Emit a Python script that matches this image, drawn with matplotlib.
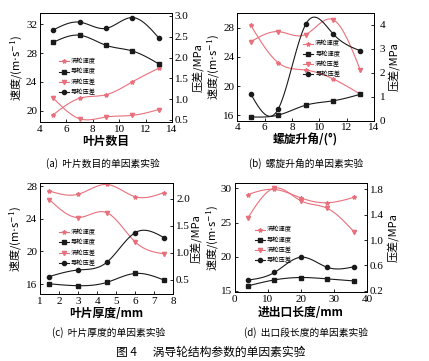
import numpy as np
import matplotlib
matplotlib.use('Agg')
import matplotlib.pyplot as plt

plt.rcParams['font.family'] = ['Noto Sans CJK SC', 'DejaVu Sans']
plt.rcParams['mathtext.fontset'] = 'dejavuserif'

RED = '#e8707c'
BLACK = '#1a1a1a'
names = ['涡轮速度', '导轮速度', '涡轮压差', '导轮压差']

# (a) 叶片数目
xa = [5, 7, 9, 11, 13]
a_tspeed = [19.4, 21.7, 22.2, 24.0, 25.9]
a_gspeed = [29.5, 30.5, 29.1, 28.3, 26.5]
a_tpress = [1.03, 0.53, 0.57, 0.61, 0.75]
a_gpress = [2.66, 2.85, 2.70, 2.96, 2.47]

# (b) 螺旋升角
xb = [5, 7, 9, 11, 13]
b_tspeed = [28.3, 23.2, 22.2, 21.0, 18.9]
b_gspeed = [15.8, 16.05, 17.4, 18.0, 18.9]
b_tpress = [3.30, 3.72, 3.60, 4.22, 2.10]
b_gpress = [1.10, 0.49, 4.02, 3.63, 2.92]

# (c) 叶片厚度
xc = [1.5, 3, 4.5, 6, 7.5]
c_tspeed = [27.4, 27.0, 28.2, 26.7, 27.2]
c_gspeed = [16.03, 15.8, 16.2, 17.3, 16.5]
c_tpress = [1.98, 1.65, 1.74, 1.20, 0.98]
c_gpress = [0.56, 0.68, 0.82, 1.37, 1.28]

# (d) 进出口长度
xd = [4, 12, 20, 28, 36]
d_tspeed = [29.1, 29.85, 28.6, 27.9, 28.7]
d_gspeed = [15.72, 16.6, 16.95, 16.75, 16.45]
d_tpress = [1.35, 1.82, 1.62, 1.50, 1.13]
d_gpress = [0.37, 0.49, 0.73, 0.57, 0.58]


def smooth(x, y, n=120):
    # natural cubic spline through the measured points (line drawing only)
    x = np.asarray(x, float)
    y = np.asarray(y, float)
    k = len(x)
    h = np.diff(x)
    A = np.zeros((k, k))
    r = np.zeros(k)
    A[0, 0] = A[-1, -1] = 1
    for i in range(1, k - 1):
        A[i, i - 1] = h[i - 1]
        A[i, i] = 2 * (h[i - 1] + h[i])
        A[i, i + 1] = h[i]
        r[i] = 6 * ((y[i + 1] - y[i]) / h[i] - (y[i] - y[i - 1]) / h[i - 1])
    M = np.linalg.solve(A, r)
    xs = np.linspace(x[0], x[-1], n)
    idx = np.clip(np.searchsorted(x, xs) - 1, 0, k - 2)
    x0, x1 = x[idx], x[idx + 1]
    hh = x1 - x0
    t0, t1 = x1 - xs, xs - x0
    ys = (M[idx] * t0 ** 3 + M[idx + 1] * t1 ** 3) / (6 * hh) \
        + (y[idx] / hh - M[idx] * hh / 6) * t0 + (y[idx + 1] / hh - M[idx + 1] * hh / 6) * t1
    return xs, ys


def series(ax, x, y, color, marker, label):
    xs, ys = smooth(x, y)
    ax.plot(xs, ys, color=color, lw=0.8)
    ax.plot(x, y, ls='none', marker=marker, ms=3, color=color)
    return ax.plot([], [], color=color, lw=0.8, marker=marker, ms=3, label=label)[0]


fig = plt.figure(figsize=(4.29, 3.61), dpi=100)

panels = [
    ([0.093, 0.662, 0.308, 0.302], xa, a_tspeed, a_gspeed, a_tpress, a_gpress,
     (4, 14), [4, 6, 8, 10, 12, 14], (18.4, 33.6), [20, 24, 28, 32],
     (0.45, 3.07), [0.5, 1.0, 1.5, 2.0, 2.5, 3.0], '叶片数目', (0.12, 0.62)),
    ([0.553, 0.666, 0.319, 0.298], xb, b_tspeed, b_gspeed, b_tpress, b_gpress,
     (4, 14), [4, 6, 8, 10, 12, 14], (15.3, 30.0), [16, 20, 24, 28],
     (0, 4.5), [0, 1, 2, 3, 4], '螺旋升角/(°)', (0.46, 0.78)),
    ([0.093, 0.186, 0.311, 0.306], xc, c_tspeed, c_gspeed, c_tpress, c_gpress,
     (1, 8), [1, 2, 3, 4, 5, 6, 7, 8], (14.8, 28.33), [16, 20, 24, 28],
     (0.24, 2.28), [0.5, 1.0, 1.5, 2.0], '叶片厚度/mm', (0.12, 0.62)),
    ([0.547, 0.190, 0.309, 0.302], xd, d_tspeed, d_gspeed, d_tpress, d_gpress,
     (0, 40), [0, 10, 20, 30, 40], (14.77, 30.73), [15, 20, 25, 30],
     (0.175, 1.895), [0.2, 0.6, 1.0, 1.4, 1.8], '进出口长度/mm', (0.13, 0.64)),
]

for i, (pos, x, ts, gs, tp, gp, xl, xt, yl, yt, rl, rt, xlab, lpos) in enumerate(panels):
    ax = fig.add_axes(pos)
    ax2 = ax.twinx()
    h1 = series(ax, x, ts, RED, '*', names[0])
    h2 = series(ax, x, gs, BLACK, 's', names[1])
    h3 = series(ax2, x, tp, RED, 'v', names[2])
    h4 = series(ax2, x, gp, BLACK, 'o', names[3])
    ax.set_xlim(*xl)
    ax.set_xticks(xt)
    ax.set_ylim(*yl)
    ax.set_yticks(yt)
    ax2.set_ylim(*rl)
    ax2.set_yticks(rt)
    ax2.set_yticklabels(['%g' % v if rl[0] == 0 else '%.1f' % v for v in rt])
    for a in (ax, ax2):
        a.tick_params(direction='in', length=2.5, width=0.6, labelsize=8, pad=2)
        for lab in a.get_xticklabels() + a.get_yticklabels():
            lab.set_fontfamily('Liberation Serif')
        for s in a.spines.values():
            s.set_linewidth(0.7)
    if i == 1:
        ax2.tick_params(axis='y', pad=4)
    ax.set_xlabel(xlab, fontsize=8.5, fontweight='bold', labelpad=1)
    ax.set_ylabel(r'速度/(m$\cdot$s$^{-1}$)', fontsize=8, labelpad=0 if i == 3 else 1)
    ax2.set_ylabel('压差/MPa', fontsize=8, labelpad=0 if i == 2 else 2)
    ax2.legend(handles=[h1, h2, h3, h4], loc='upper left', bbox_to_anchor=lpos,
               frameon=False, fontsize=4.5, handlelength=1.6, labelspacing=0.35,
               borderpad=0, handletextpad=0.3)

fig.text(0.24, 0.548, '(a)  叶片数目的单因素实验', fontsize=7, ha='center', va='center')
fig.text(0.713, 0.548, '(b)  螺旋升角的单因素实验', fontsize=7, ha='center', va='center')
fig.text(0.254, 0.078, '(c)  叶片厚度的单因素实验', fontsize=7, ha='center', va='center')
fig.text(0.713, 0.078, '(d)  出口段长度的单因素实验', fontsize=7, ha='center', va='center')
fig.text(0.492, 0.023, '图 4      涡导轮结构参数的单因素实验', fontsize=8.5, ha='center', va='center')

fig.savefig('out.png', dpi=100)
